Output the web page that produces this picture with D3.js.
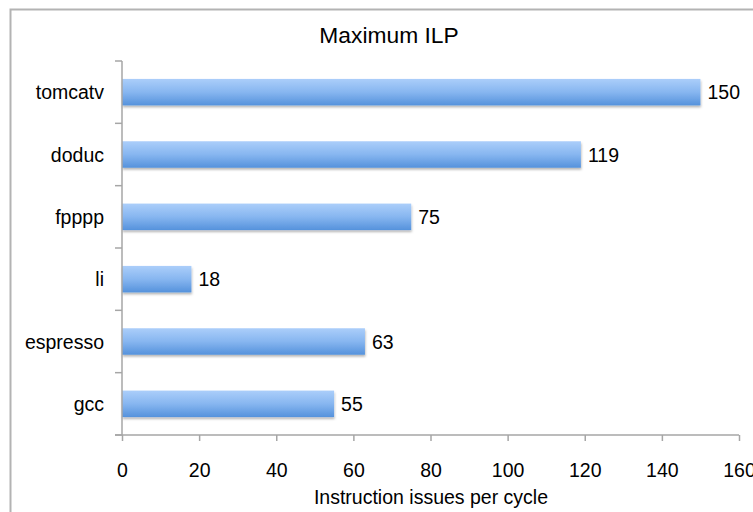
<!DOCTYPE html>
<html>
<head>
<meta charset="utf-8">
<script src="https://cdn.jsdelivr.net/npm/d3@7"></script>
<style>
  html, body { margin: 0; padding: 0; background: #fff; }
  svg { display: block; font-family: "Liberation Sans", Arial, Helvetica, sans-serif; }
</style>
</head>
<body>
<svg id="chart" width="753" height="512"></svg>
<script>
// Benchmarks, top to bottom
const categories = ["tomcatv", "doduc", "fpppp", "li", "espresso", "gcc"];
// Maximum instruction issues per cycle
const values = [150, 119, 75, 18, 63, 55];
const xTicks = [0, 20, 40, 60, 80, 100, 120, 140, 160];

const chartTitle = "Maximum ILP";
const xTitle = "Instruction issues per cycle";

const svg = d3.select("#chart");
const W = 753, H = 512;
const plot = { left: 122, right: 739, top: 61, bottom: 435 };

// chart frame (right and bottom edges fall outside the view)
svg.append("rect")
  .attr("x", 10.5).attr("y", 9.5)
  .attr("width", W + 20).attr("height", H + 20)
  .attr("fill", "#fff").attr("stroke", "#b3b3b3").attr("stroke-width", 2);

const defs = svg.append("defs");
const grad = defs.append("linearGradient")
  .attr("id", "barFill").attr("x1", 0).attr("y1", 0).attr("x2", 0).attr("y2", 1);
grad.append("stop").attr("offset", "0%").attr("stop-color", "#abcefa");
grad.append("stop").attr("offset", "50%").attr("stop-color", "#87b6f0");
grad.append("stop").attr("offset", "100%").attr("stop-color", "#5592dc");

const shadow = defs.append("filter").attr("id", "barShadow")
  .attr("x", "-5%").attr("y", "-20%").attr("width", "110%").attr("height", "160%");
shadow.append("feDropShadow")
  .attr("dx", 0.5).attr("dy", 2).attr("stdDeviation", 1.2)
  .attr("flood-color", "#000").attr("flood-opacity", 0.28);

const x = d3.scaleLinear().domain([0, 160]).range([plot.left, plot.right]);
const y = d3.scaleBand().domain(categories)
  .range([plot.top, plot.bottom])
  .paddingInner(0.575).paddingOuter(0.2875);
const yBounds = d3.scaleBand().domain(categories).range([plot.top, plot.bottom]).padding(0);

const axisColor = "#a6a6a6";

// title
svg.append("text")
  .attr("x", 389).attr("y", 43)
  .attr("text-anchor", "middle")
  .attr("font-size", 22.8).attr("fill", "#000")
  .text(chartTitle);

// bars
svg.append("g").selectAll("rect")
  .data(categories)
  .join("rect")
  .attr("x", x(0))
  .attr("y", d => y(d))
  .attr("width", (d, i) => x(values[i]) - x(0))
  .attr("height", y.bandwidth())
  .attr("fill", "url(#barFill)")
  .attr("filter", "url(#barShadow)");

// value labels
svg.append("g").selectAll("text")
  .data(categories)
  .join("text")
  .attr("x", (d, i) => x(values[i]) + 7)
  .attr("y", d => y(d) + y.bandwidth() / 2 + 7)
  .attr("font-size", 19.5).attr("fill", "#000")
  .text((d, i) => values[i]);

// x axis
const xAxis = svg.append("g")
  .attr("transform", `translate(0,${plot.bottom})`)
  .call(d3.axisBottom(x).tickValues(xTicks).tickSize(6).tickSizeOuter(0).tickPadding(22));
xAxis.select(".domain").remove();
xAxis.append("line")
  .attr("x1", plot.left - 7).attr("x2", plot.right)
  .attr("stroke", axisColor).attr("stroke-width", 1.5);
xAxis.selectAll(".tick line").attr("stroke", axisColor).attr("stroke-width", 1.5);
xAxis.selectAll(".tick text")
  .attr("font-size", 19.5).attr("fill", "#000")
  .attr("font-family", "Liberation Sans, Arial, sans-serif");

// y axis: ticks at band boundaries, labels centred on the bars
const yAxis = svg.append("g");
yAxis.append("line")
  .attr("x1", plot.left).attr("x2", plot.left)
  .attr("y1", plot.top).attr("y2", plot.bottom)
  .attr("stroke", axisColor).attr("stroke-width", 1.5);
const bounds = categories.map(c => yBounds(c)).concat([plot.bottom]);
yAxis.selectAll("line.tick")
  .data(bounds)
  .join("line").attr("class", "tick")
  .attr("x1", plot.left - 7).attr("x2", plot.left)
  .attr("y1", d => d).attr("y2", d => d)
  .attr("stroke", axisColor).attr("stroke-width", 1.5);
yAxis.selectAll("text")
  .data(categories)
  .join("text")
  .attr("x", 104)
  .attr("y", d => y(d) + y.bandwidth() / 2 + 7)
  .attr("text-anchor", "end")
  .attr("font-size", 19.5).attr("fill", "#000")
  .text(d => d);

// x axis title
svg.append("text")
  .attr("x", 431).attr("y", 504)
  .attr("text-anchor", "middle")
  .attr("font-size", 19.5).attr("fill", "#000")
  .text(xTitle);
</script>
</body>
</html>
